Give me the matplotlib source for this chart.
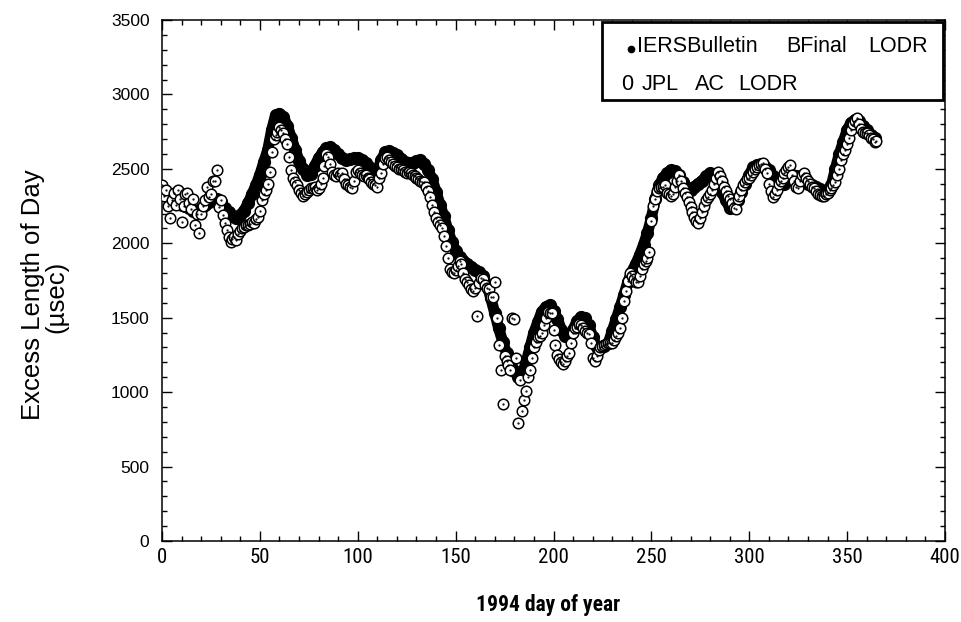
import numpy as np
import matplotlib
matplotlib.use("Agg")
import matplotlib.pyplot as plt
from matplotlib import font_manager
from matplotlib.patches import Rectangle
from matplotlib.ticker import MultipleLocator

# IERS Bulletin B final LOD, read every 2nd day (usec)
iers_days = np.arange(0, 366, 2)
iers_lod = [
    2330, 2315, 2300, 2285, 2270, 2260, 2250, 2235, 2220, 2220,
    2230, 2255, 2280, 2295, 2300, 2275, 2240, 2210, 2180, 2170,
    2190, 2220, 2270, 2330, 2390, 2460, 2545, 2625, 2760, 2860,
    2870, 2850, 2790, 2710, 2630, 2555, 2500, 2460, 2465, 2520,
    2570, 2610, 2640, 2645, 2625, 2600, 2575, 2560, 2565, 2570,
    2570, 2560, 2540, 2510, 2490, 2480, 2560, 2610, 2620, 2605,
    2590, 2565, 2545, 2540, 2540, 2550, 2557, 2535, 2490, 2430,
    2345, 2260, 2180, 2090, 2010, 1950, 1910, 1880, 1860, 1840,
    1820, 1805, 1780, 1720, 1630, 1530, 1430, 1340, 1260, 1200,
    1145, 1105, 1120, 1200, 1300, 1400, 1470, 1540, 1570, 1585,
    1545, 1490, 1420, 1375, 1370, 1420, 1475, 1505, 1500, 1450,
    1370, 1300, 1295, 1310, 1330, 1410, 1490, 1570, 1655, 1740,
    1810, 1860, 1920, 1990, 2070, 2170, 2300, 2390, 2440, 2470,
    2490, 2485, 2460, 2410, 2370, 2360, 2380, 2400, 2420, 2450,
    2470, 2440, 2400, 2345, 2290, 2240, 2255, 2290, 2345, 2400,
    2460, 2510, 2525, 2530, 2510, 2490, 2450, 2420, 2400, 2400,
    2430, 2460, 2455, 2440, 2420, 2400, 2390, 2380, 2365, 2350,
    2350, 2390, 2500, 2600, 2680, 2760, 2810, 2830, 2820, 2790,
    2760, 2730, 2710,
]

# JPL AC LOD, daily (usec)
jpl_days = np.arange(0, 366)
jpl_lod = [
    2390, 2320, 2360, 2250, 2170, 2290, 2340, 2260, 2360, 2300,
    2140, 2250, 2330, 2340, 2270, 2230, 2300, 2120, 2200, 2070,
    2200, 2250, 2290, 2380, 2310, 2330, 2420, 2420, 2490, 2245,
    2290, 2190, 2135, 2090, 2040, 2010, 2030, 2040, 2020, 2060,
    2080, 2100, 2110, 2120, 2125, 2130, 2140, 2135, 2160, 2175,
    2220, 2290, 2330, 2360, 2400, 2480, 2610, 2700, 2730, 2750,
    2780, 2760, 2740, 2700, 2670, 2580, 2490, 2440, 2410, 2390,
    2360, 2340, 2320, 2330, 2345, 2355, 2370, 2370, 2380, 2360,
    2370, 2400, 2440, 2520, 2600, 2580, 2530, 2480, 2460, 2450,
    2470, 2460, 2470, 2430, 2400, 2390, 2380, 2370, 2420, 2480,
    2490, 2470, 2460, 2455, 2460, 2440, 2430, 2410, 2400, 2390,
    2380, 2440, 2470, 2530, 2570, 2580, 2560, 2545, 2535, 2520,
    2510, 2500, 2500, 2490, 2480, 2470, 2480, 2470, 2460, 2450,
    2440, 2430, 2420, 2415, 2410, 2380, 2350, 2310, 2260, 2210,
    2170, 2140, 2120, 2100, 2050, 1980, 1900, 1830, 1810, 1800,
    1820, 1850, 1880, 1860, 1800, 1760, 1740, 1720, 1690, 1680,
    1700, 1510, 1730, 1770, 1760, 1720, 1700, 1690, 1640, 1640,
    1740, 1500, 1320, 1150, 920, 1240, 1210, 1180, 1150, 1500,
    1490, 1230, 790, 1080, 870, 950, 1010, 1100, 1150, 1230,
    1300, 1340, 1370, 1380, 1400, 1450, 1500, 1540, 1530, 1530,
    1420, 1320, 1250, 1220, 1200, 1190, 1210, 1240, 1260, 1330,
    1400, 1430, 1440, 1460, 1450, 1430, 1410, 1400, 1390, 1330,
    1230, 1210, 1240, 1280, 1300, 1310, 1320, 1325, 1330, 1330,
    1330, 1350, 1380, 1400, 1430, 1500, 1610, 1680, 1750, 1800,
    1780, 1760, 1740, 1740, 1780, 1830, 1860, 1880, 1900, 1940,
    2150, 2250, 2300, 2350, 2370, 2380, 2380, 2390, 2340, 2330,
    2320, 2330, 2380, 2420, 2460, 2420, 2370, 2340, 2310, 2280,
    2245, 2210, 2175, 2150, 2135, 2170, 2210, 2250, 2290, 2310,
    2330, 2360, 2400, 2440, 2480, 2450, 2420, 2380, 2350, 2320,
    2300, 2270, 2240, 2230, 2300, 2320, 2360, 2390, 2410, 2430,
    2440, 2460, 2480, 2500, 2510, 2525, 2535, 2540, 2500, 2470,
    2400, 2350, 2310, 2330, 2360, 2400, 2420, 2440, 2470, 2490,
    2510, 2525, 2460, 2420, 2380, 2370, 2420, 2460, 2470, 2440,
    2420, 2400, 2380, 2370, 2350, 2330, 2325, 2320, 2320, 2330,
    2340, 2355, 2370, 2390, 2410, 2460, 2500, 2560, 2600, 2630,
    2670, 2710, 2760, 2800, 2820, 2840, 2800, 2770, 2750, 2740,
    2740, 2730, 2710, 2700, 2680, 2690,
]

legend_words1 = ["IERSBulletin", "BFinal", "LODR"]
legend_words2 = ["0", "JPL", "AC", "LODR"]

# pick a condensed face if one is around, otherwise plain Arial metrics
names = {f.name for f in font_manager.fontManager.ttflist}
narrow_name = None
for n in ['Liberation Sans Narrow', 'Arial Narrow', 'Roboto Condensed',
          'Open Sans Condensed', 'DejaVu Sans Condensed', 'Noto Sans Condensed']:
    if n in names:
        narrow_name = n
        break
if narrow_name is None:
    narrow = dict(family=['Liberation Sans', 'DejaVu Sans'])
    nscale = 0.9
else:
    narrow = dict(family=[narrow_name, 'DejaVu Sans'])
    nscale = 1.0
arial = ['Liberation Sans', 'DejaVu Sans']

fig = plt.figure(figsize=(9.62, 6.22), dpi=100)
ax = fig.add_axes([162 / 962, 1 - 541 / 622, 783 / 962, 521 / 622])

ax.plot(iers_days, iers_lod, '-', lw=8, color='black', zorder=2,
        solid_capstyle='round', solid_joinstyle='round')
ax.plot(iers_days, iers_lod, 'o', ms=8.5, color='black', ls='none', zorder=2)
ax.plot(jpl_days, jpl_lod, 'o', ms=7.6, mfc='white', mec='black', mew=1.1,
        ls='none', zorder=3)
ax.plot(jpl_days, jpl_lod, '.', ms=1.2, color='black', ls='none', zorder=4)

ax.set_xlim(0, 400)
ax.set_ylim(0, 3500)
ax.xaxis.set_major_locator(MultipleLocator(50))
ax.xaxis.set_minor_locator(MultipleLocator(10))
ax.yaxis.set_major_locator(MultipleLocator(500))
ax.yaxis.set_minor_locator(MultipleLocator(100))
ax.tick_params(which='both', direction='in', top=True, right=True, width=1)
ax.tick_params(which='major', length=7)
ax.tick_params(which='minor', length=3.5)
ax.tick_params(axis='x', pad=5)
ax.tick_params(axis='y', pad=9)
for s in ax.spines.values():
    s.set_linewidth(1.1)

for lab in ax.get_xticklabels():
    lab.set_family(narrow['family'])
    lab.set_fontsize(15 * nscale)
for lab in ax.get_yticklabels():
    lab.set_family(arial)
    lab.set_fontsize(12.5)

# legend box drawn as in the original (text with symbol glyphs)
def px_x(x):
    return (x - 162) / 783

def px_y(y):
    return (541 - y) / 521

ax.add_patch(Rectangle((px_x(602), px_y(100)), px_x(943) - px_x(602),
                       px_y(22) - px_y(100), transform=ax.transAxes,
                       facecolor='white', edgecolor='black',
                       linewidth=2, zorder=5, clip_on=False))
ax.plot([px_x(631)], [px_y(49)], 'o', ms=4.5, color='black',
        transform=ax.transAxes, zorder=6, clip_on=False)
for word, x0 in zip(legend_words1, [637, 786, 868]):
    ax.text(px_x(x0), px_y(47), word, transform=ax.transAxes, ha='left',
            va='center', fontsize=15.5, zorder=6, family=arial)
for word, x0 in zip(legend_words2, [621, 642, 695, 738]):
    ax.text(px_x(x0), px_y(84), word, transform=ax.transAxes, ha='left',
            va='center', fontsize=15.5, zorder=6, family=arial)

fig.text(548 / 962, 1 - 605 / 622, '1994 day of year', ha='center',
         va='center', fontsize=15.5 * nscale, fontweight='bold', **narrow)
fig.text(33 / 962, 1 - 295 / 622, 'Excess Length of Day', rotation=90,
         ha='center', va='center', fontsize=18.5, family=arial)
fig.text(56 / 962, 1 - 297 / 622, '(\u00b5sec)', rotation=90,
         ha='center', va='center', fontsize=18.5, family=arial)

fig.savefig('out.png', dpi=100)
